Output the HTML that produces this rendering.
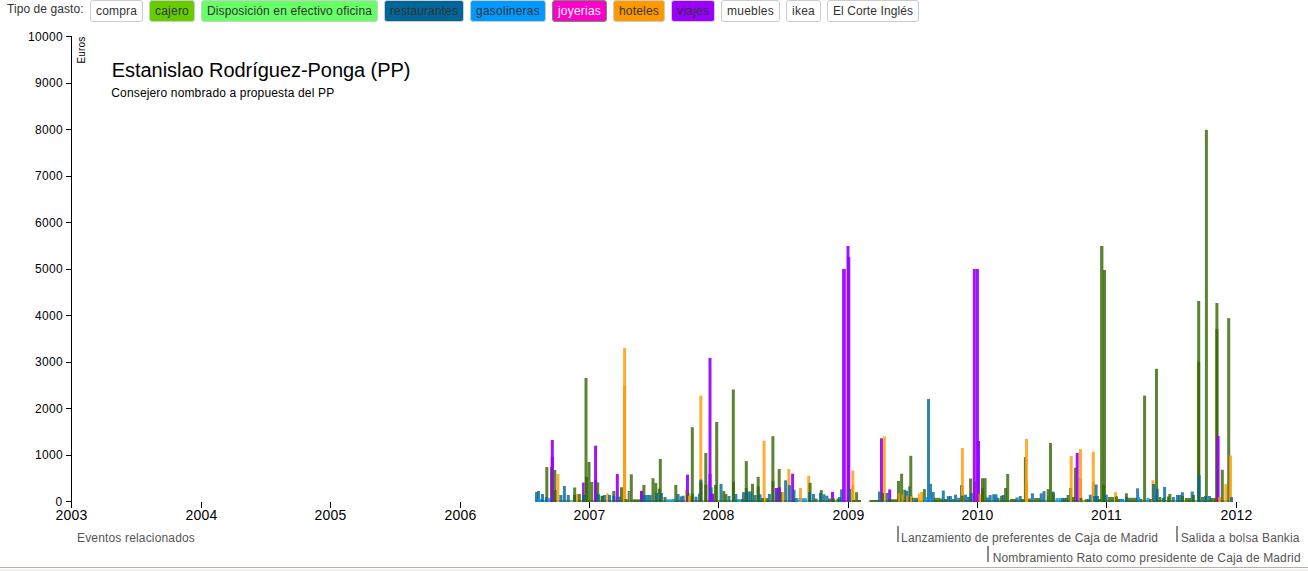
<!DOCTYPE html>
<html><head><meta charset="utf-8"><style>
html,body{margin:0;padding:0;background:#fff;overflow:hidden;width:1308px;height:571px}
svg{position:absolute;left:0;top:0;font-family:"Liberation Sans", sans-serif}
.bot{position:absolute;left:0;top:567px;width:1308px;height:1px;background:#b4b1ad}
.bot2{position:absolute;left:0;top:569px;width:1308px;height:2px;background:#efeeec}
</style></head><body>
<svg width="1308" height="571" viewBox="0 0 1308 571">
<rect x="90.5" y="0.5" width="52" height="21" rx="2.5" ry="2.5" fill="#fff" stroke="#ccc"/>
<text x="96" y="15" font-size="12" fill="#333" letter-spacing="0.164">compra</text>
<rect x="149.5" y="0.5" width="45" height="21" rx="2.5" ry="2.5" fill="#66cc00" stroke="#ccc"/>
<text x="155" y="15" font-size="12" fill="#333" letter-spacing="0.219">cajero</text>
<rect x="201.5" y="0.5" width="176" height="21" rx="2.5" ry="2.5" fill="#66ff66" stroke="#ccc"/>
<text x="207" y="15" font-size="12" fill="#333" letter-spacing="0.137">Disposición en efectivo oficina</text>
<rect x="384.5" y="0.5" width="79" height="21" rx="2.5" ry="2.5" fill="#006699" stroke="#ccc"/>
<text x="390" y="15" font-size="12" fill="#333" letter-spacing="0.108">restaurantes</text>
<rect x="470.5" y="0.5" width="75" height="21" rx="2.5" ry="2.5" fill="#0099ff" stroke="#ccc"/>
<text x="476" y="15" font-size="12" fill="#333" letter-spacing="0.239">gasolineras</text>
<rect x="552.5" y="0.5" width="54" height="21" rx="2.5" ry="2.5" fill="#ff00cc" stroke="#5c9c5c"/>
<text x="558" y="15" font-size="12" fill="#fff" letter-spacing="0.206">joyerias</text>
<rect x="613.5" y="0.5" width="51" height="21" rx="2.5" ry="2.5" fill="#ff9900" stroke="#ccc"/>
<text x="619" y="15" font-size="12" fill="#333" letter-spacing="0.186">hoteles</text>
<rect x="671.5" y="0.5" width="43" height="21" rx="2.5" ry="2.5" fill="#9900ff" stroke="#ccc"/>
<text x="677" y="15" font-size="12" fill="#333" letter-spacing="0.220">viajes</text>
<rect x="721.5" y="0.5" width="58" height="21" rx="2.5" ry="2.5" fill="#fff" stroke="#ccc"/>
<text x="727" y="15" font-size="12" fill="#333" letter-spacing="0.235">muebles</text>
<rect x="786.5" y="0.5" width="34" height="21" rx="2.5" ry="2.5" fill="#fff" stroke="#ccc"/>
<text x="792" y="15" font-size="12" fill="#333" letter-spacing="0.247">ikea</text>
<rect x="827.5" y="0.5" width="91" height="21" rx="2.5" ry="2.5" fill="#fff" stroke="#ccc"/>
<text x="833" y="15" font-size="12" fill="#333" letter-spacing="0.086">El Corte Inglés</text>
<text x="7" y="13" font-size="12" fill="#333" letter-spacing="0.068" >Tipo de gasto:</text>
<rect x="71" y="36" width="1" height="466" fill="#000"/>
<rect x="66" y="501" width="6" height="1" fill="#000"/>
<text x="62.6" y="506" font-size="12" text-anchor="end" letter-spacing="0.326">0</text>
<rect x="66" y="455" width="6" height="1" fill="#000"/>
<text x="63.0" y="459" font-size="12" text-anchor="end" letter-spacing="0.326">1000</text>
<rect x="66" y="408" width="6" height="1" fill="#000"/>
<text x="63.0" y="413" font-size="12" text-anchor="end" letter-spacing="0.326">2000</text>
<rect x="66" y="362" width="6" height="1" fill="#000"/>
<text x="63.0" y="366" font-size="12" text-anchor="end" letter-spacing="0.326">3000</text>
<rect x="66" y="315" width="6" height="1" fill="#000"/>
<text x="63.0" y="320" font-size="12" text-anchor="end" letter-spacing="0.326">4000</text>
<rect x="66" y="269" width="6" height="1" fill="#000"/>
<text x="63.0" y="273" font-size="12" text-anchor="end" letter-spacing="0.326">5000</text>
<rect x="66" y="222" width="6" height="1" fill="#000"/>
<text x="63.0" y="227" font-size="12" text-anchor="end" letter-spacing="0.326">6000</text>
<rect x="66" y="176" width="6" height="1" fill="#000"/>
<text x="63.0" y="180" font-size="12" text-anchor="end" letter-spacing="0.326">7000</text>
<rect x="66" y="129" width="6" height="1" fill="#000"/>
<text x="63.0" y="134" font-size="12" text-anchor="end" letter-spacing="0.326">8000</text>
<rect x="66" y="83" width="6" height="1" fill="#000"/>
<text x="63.0" y="87" font-size="12" text-anchor="end" letter-spacing="0.326">9000</text>
<rect x="66" y="36" width="6" height="1" fill="#000"/>
<text x="63.0" y="41" font-size="12" text-anchor="end" letter-spacing="0.326">10000</text>
<text transform="translate(85.4,36.6) rotate(-90)" font-size="10" text-anchor="end" letter-spacing="0.175">Euros</text>
<rect x="71" y="502" width="1" height="6" fill="#000"/>
<text x="71.5" y="520.44" font-size="14" text-anchor="middle" letter-spacing="0.214">2003</text>
<rect x="201" y="502" width="1" height="6" fill="#000"/>
<text x="201.5" y="520.44" font-size="14" text-anchor="middle" letter-spacing="0.214">2004</text>
<rect x="330" y="502" width="1" height="6" fill="#000"/>
<text x="330.5" y="520.44" font-size="14" text-anchor="middle" letter-spacing="0.214">2005</text>
<rect x="460" y="502" width="1" height="6" fill="#000"/>
<text x="460.5" y="520.44" font-size="14" text-anchor="middle" letter-spacing="0.214">2006</text>
<rect x="589" y="502" width="1" height="6" fill="#000"/>
<text x="589.5" y="520.44" font-size="14" text-anchor="middle" letter-spacing="0.214">2007</text>
<rect x="718" y="502" width="1" height="6" fill="#000"/>
<text x="718.5" y="520.44" font-size="14" text-anchor="middle" letter-spacing="0.214">2008</text>
<rect x="848" y="502" width="1" height="6" fill="#000"/>
<text x="848.5" y="520.44" font-size="14" text-anchor="middle" letter-spacing="0.214">2009</text>
<rect x="977" y="502" width="1" height="6" fill="#000"/>
<text x="977.5" y="520.44" font-size="14" text-anchor="middle" letter-spacing="0.214">2010</text>
<rect x="1106" y="502" width="1" height="6" fill="#000"/>
<text x="1106.5" y="520.44" font-size="14" text-anchor="middle" letter-spacing="0.214">2011</text>
<rect x="1236" y="502" width="1" height="6" fill="#000"/>
<text x="1236.5" y="520.44" font-size="14" text-anchor="middle" letter-spacing="0.214">2012</text>
<text x="111.8" y="77" font-size="20" fill="#000" letter-spacing="-0.05">Estanislao Rodríguez-Ponga (PP)</text>
<text x="111.3" y="96.7" font-size="12" fill="#000" letter-spacing="0.149" >Consejero nombrado a propuesta del PP</text>
<rect x="536" y="500" width="325" height="2" fill="rgba(51,102,0,0.55)"/>
<rect x="869" y="500" width="364" height="2" fill="rgba(51,102,0,0.55)"/>
<rect x="535.0" y="492.0" width="3" height="10.00" fill="rgba(0,102,153,0.8)"/>
<rect x="537.0" y="491.0" width="3" height="11.00" fill="rgba(0,102,153,0.8)"/>
<rect x="537.0" y="499.0" width="3" height="3.00" fill="rgba(0,153,255,0.8)"/>
<rect x="540.0" y="499.0" width="3" height="3.00" fill="rgba(0,153,255,0.8)"/>
<rect x="541.0" y="494.0" width="3" height="8.00" fill="rgba(0,102,153,0.8)"/>
<rect x="545.3" y="467.0" width="3" height="35.00" fill="rgba(51,102,0,0.8)"/>
<rect x="545.0" y="497.0" width="3" height="5.00" fill="rgba(0,102,153,0.8)"/>
<rect x="547.0" y="498.0" width="3" height="4.00" fill="rgba(0,153,255,0.8)"/>
<rect x="550.0" y="467.0" width="2.0" height="35.00" fill="rgba(51,102,0,0.8)"/>
<rect x="550.8" y="440.0" width="3" height="62.00" fill="rgba(153,0,255,0.92)"/>
<rect x="550.8" y="457.0" width="3" height="45.00" fill="rgba(153,0,255,0.92)"/>
<rect x="553.3" y="470.0" width="3" height="32.00" fill="rgba(51,102,0,0.8)"/>
<rect x="556.4" y="474.0" width="3" height="28.00" fill="rgba(255,153,0,0.8)"/>
<rect x="553.5" y="490.0" width="3" height="12.00" fill="rgba(51,102,0,0.8)"/>
<rect x="559.4" y="495.0" width="3" height="7.00" fill="rgba(0,102,153,0.8)"/>
<rect x="562.9" y="486.0" width="3" height="16.00" fill="rgba(0,102,153,0.8)"/>
<rect x="566.8" y="495.0" width="3" height="7.00" fill="rgba(0,102,153,0.8)"/>
<rect x="573.0" y="495.0" width="3" height="7.00" fill="rgba(0,102,153,0.8)"/>
<rect x="573.2" y="487.5" width="3" height="14.50" fill="rgba(51,102,0,0.8)"/>
<rect x="576.0" y="494.0" width="2.0" height="8.00" fill="rgba(255,153,0,0.8)"/>
<rect x="577.8" y="494.0" width="3" height="8.00" fill="rgba(51,102,0,0.8)"/>
<rect x="582.1" y="482.6" width="2.5" height="19.40" fill="rgba(153,0,255,0.92)"/>
<rect x="582.0" y="495.0" width="3" height="7.00" fill="rgba(0,102,153,0.8)"/>
<rect x="584.5" y="378.0" width="3" height="124.00" fill="rgba(51,102,0,0.8)"/>
<rect x="587.5" y="462.0" width="3" height="40.00" fill="rgba(51,102,0,0.8)"/>
<rect x="585.0" y="477.0" width="3" height="25.00" fill="rgba(51,102,0,0.8)"/>
<rect x="590.3" y="482.0" width="3" height="20.00" fill="rgba(51,102,0,0.8)"/>
<rect x="594.1" y="445.7" width="3" height="56.30" fill="rgba(153,0,255,0.92)"/>
<rect x="594.1" y="480.0" width="3" height="22.00" fill="rgba(153,0,255,0.92)"/>
<rect x="596.2" y="482.4" width="3" height="19.60" fill="rgba(51,102,0,0.8)"/>
<rect x="597.0" y="494.3" width="3" height="7.70" fill="rgba(0,102,153,0.8)"/>
<rect x="600.5" y="495.7" width="3" height="6.30" fill="rgba(0,102,153,0.8)"/>
<rect x="603.0" y="495.0" width="3" height="7.00" fill="rgba(0,102,153,0.8)"/>
<rect x="601.0" y="496.0" width="3" height="6.00" fill="rgba(51,102,0,0.8)"/>
<rect x="606.0" y="493.4" width="3" height="8.60" fill="rgba(255,153,0,0.8)"/>
<rect x="608.0" y="495.0" width="3" height="7.00" fill="rgba(0,102,153,0.8)"/>
<rect x="612.3" y="491.0" width="3" height="11.00" fill="rgba(51,102,0,0.8)"/>
<rect x="612.3" y="495.7" width="3" height="6.30" fill="rgba(0,102,153,0.8)"/>
<rect x="615.8" y="474.0" width="3" height="28.00" fill="rgba(153,0,255,0.92)"/>
<rect x="618.0" y="496.7" width="3" height="5.30" fill="rgba(0,102,153,0.8)"/>
<rect x="620.0" y="487.3" width="3" height="14.70" fill="rgba(51,102,0,0.8)"/>
<rect x="623.1" y="348.0" width="3" height="154.00" fill="rgba(255,153,0,0.8)"/>
<rect x="623.1" y="385.5" width="3" height="116.50" fill="rgba(255,153,0,0.8)"/>
<rect x="624.5" y="499.0" width="3" height="3.00" fill="rgba(51,102,0,0.8)"/>
<rect x="627.7" y="491.0" width="2.5" height="11.00" fill="rgba(0,102,153,0.8)"/>
<rect x="629.0" y="492.0" width="1.0" height="10.00" fill="rgba(255,153,0,0.8)"/>
<rect x="629.8" y="474.3" width="3" height="27.70" fill="rgba(51,102,0,0.8)"/>
<rect x="633.0" y="499.3" width="3.0" height="2.70" fill="rgba(51,102,0,0.8)"/>
<rect x="636.0" y="499.3" width="3.0" height="2.70" fill="rgba(51,102,0,0.8)"/>
<rect x="639.0" y="499.3" width="3.0" height="2.70" fill="rgba(51,102,0,0.8)"/>
<rect x="640.0" y="491.0" width="3" height="11.00" fill="rgba(51,102,0,0.8)"/>
<rect x="640.0" y="490.8" width="3" height="11.20" fill="rgba(153,0,255,0.92)"/>
<rect x="642.4" y="485.0" width="3" height="17.00" fill="rgba(51,102,0,0.8)"/>
<rect x="643.0" y="495.0" width="3" height="7.00" fill="rgba(0,102,153,0.8)"/>
<rect x="646.0" y="495.0" width="3" height="7.00" fill="rgba(0,102,153,0.8)"/>
<rect x="648.7" y="495.0" width="3" height="7.00" fill="rgba(0,102,153,0.8)"/>
<rect x="651.5" y="478.2" width="3" height="23.80" fill="rgba(51,102,0,0.8)"/>
<rect x="654.3" y="482.9" width="3" height="19.10" fill="rgba(51,102,0,0.8)"/>
<rect x="655.0" y="493.0" width="3" height="9.00" fill="rgba(0,102,153,0.8)"/>
<rect x="658.8" y="459.0" width="3" height="43.00" fill="rgba(51,102,0,0.8)"/>
<rect x="657.8" y="488.7" width="3" height="13.30" fill="rgba(51,102,0,0.8)"/>
<rect x="660.0" y="493.0" width="3" height="9.00" fill="rgba(0,102,153,0.8)"/>
<rect x="663.5" y="497.0" width="3" height="5.00" fill="rgba(51,102,0,0.8)"/>
<rect x="666.0" y="499.3" width="3" height="2.70" fill="rgba(0,153,255,0.8)"/>
<rect x="669.0" y="499.3" width="3" height="2.70" fill="rgba(0,153,255,0.8)"/>
<rect x="672.0" y="499.0" width="3" height="3.00" fill="rgba(0,153,255,0.8)"/>
<rect x="674.3" y="485.0" width="3" height="17.00" fill="rgba(51,102,0,0.8)"/>
<rect x="676.5" y="494.0" width="3" height="8.00" fill="rgba(0,102,153,0.8)"/>
<rect x="679.5" y="496.4" width="3" height="5.60" fill="rgba(0,102,153,0.8)"/>
<rect x="681.7" y="495.7" width="3" height="6.30" fill="rgba(0,102,153,0.8)"/>
<rect x="685.0" y="489.7" width="1.5" height="12.30" fill="rgba(255,153,0,0.8)"/>
<rect x="686.0" y="474.7" width="3" height="27.30" fill="rgba(153,0,255,0.92)"/>
<rect x="686.5" y="493.0" width="3" height="9.00" fill="rgba(51,102,0,0.8)"/>
<rect x="688.0" y="496.0" width="3" height="6.00" fill="rgba(255,153,0,0.8)"/>
<rect x="690.8" y="427.2" width="3" height="74.80" fill="rgba(51,102,0,0.8)"/>
<rect x="690.8" y="493.6" width="3" height="8.40" fill="rgba(51,102,0,0.8)"/>
<rect x="694.5" y="496.7" width="3" height="5.30" fill="rgba(0,102,153,0.8)"/>
<rect x="698.0" y="493.6" width="3" height="8.40" fill="rgba(0,102,153,0.8)"/>
<rect x="699.3" y="395.6" width="3" height="106.40" fill="rgba(255,153,0,0.8)"/>
<rect x="699.3" y="479.6" width="3" height="22.40" fill="rgba(0,102,153,0.8)"/>
<rect x="699.5" y="481.7" width="3" height="20.30" fill="rgba(51,102,0,0.8)"/>
<rect x="704.3" y="453.0" width="3" height="49.00" fill="rgba(51,102,0,0.8)"/>
<rect x="704.3" y="484.5" width="3" height="17.50" fill="rgba(51,102,0,0.8)"/>
<rect x="708.5" y="358.0" width="3" height="144.00" fill="rgba(153,0,255,0.92)"/>
<rect x="708.5" y="474.0" width="3" height="28.00" fill="rgba(153,0,255,0.92)"/>
<rect x="709.7" y="487.3" width="3" height="14.70" fill="rgba(0,102,153,0.8)"/>
<rect x="711.0" y="493.6" width="3" height="8.40" fill="rgba(153,0,255,0.92)"/>
<rect x="715.2" y="422.0" width="3" height="80.00" fill="rgba(51,102,0,0.8)"/>
<rect x="714.0" y="485.0" width="3" height="17.00" fill="rgba(51,102,0,0.8)"/>
<rect x="719.5" y="483.8" width="3" height="18.20" fill="rgba(0,102,153,0.8)"/>
<rect x="722.3" y="491.1" width="3" height="10.90" fill="rgba(51,102,0,0.8)"/>
<rect x="724.4" y="494.0" width="3" height="8.00" fill="rgba(51,102,0,0.8)"/>
<rect x="727.5" y="496.0" width="3" height="6.00" fill="rgba(0,102,153,0.8)"/>
<rect x="731.8" y="389.5" width="3" height="112.50" fill="rgba(51,102,0,0.8)"/>
<rect x="732.0" y="481.7" width="3" height="20.30" fill="rgba(51,102,0,0.8)"/>
<rect x="734.3" y="494.0" width="3" height="8.00" fill="rgba(0,102,153,0.8)"/>
<rect x="737.0" y="499.0" width="3" height="3.00" fill="rgba(0,153,255,0.8)"/>
<rect x="740.5" y="499.0" width="3" height="3.00" fill="rgba(51,102,0,0.8)"/>
<rect x="742.0" y="492.2" width="3" height="9.80" fill="rgba(0,102,153,0.8)"/>
<rect x="744.8" y="461.1" width="3" height="40.90" fill="rgba(51,102,0,0.8)"/>
<rect x="744.8" y="488.0" width="3" height="14.00" fill="rgba(51,102,0,0.8)"/>
<rect x="746.5" y="491.5" width="3" height="10.50" fill="rgba(0,102,153,0.8)"/>
<rect x="749.0" y="491.5" width="3" height="10.50" fill="rgba(0,102,153,0.8)"/>
<rect x="751.0" y="483.8" width="3" height="18.20" fill="rgba(51,102,0,0.8)"/>
<rect x="753.5" y="495.0" width="3" height="7.00" fill="rgba(0,102,153,0.8)"/>
<rect x="756.7" y="476.8" width="3" height="25.20" fill="rgba(51,102,0,0.8)"/>
<rect x="756.7" y="486.6" width="3" height="15.40" fill="rgba(51,102,0,0.8)"/>
<rect x="758.5" y="494.3" width="3" height="7.70" fill="rgba(0,102,153,0.8)"/>
<rect x="762.6" y="440.7" width="3" height="61.30" fill="rgba(255,153,0,0.8)"/>
<rect x="761.0" y="498.0" width="3" height="4.00" fill="rgba(51,102,0,0.8)"/>
<rect x="765.5" y="498.0" width="3" height="4.00" fill="rgba(51,102,0,0.8)"/>
<rect x="767.9" y="494.0" width="3" height="8.00" fill="rgba(0,102,153,0.8)"/>
<rect x="771.4" y="436.2" width="3" height="65.80" fill="rgba(51,102,0,0.8)"/>
<rect x="771.4" y="481.0" width="3" height="21.00" fill="rgba(51,102,0,0.8)"/>
<rect x="774.9" y="488.0" width="3" height="14.00" fill="rgba(153,0,255,0.92)"/>
<rect x="777.0" y="488.0" width="3" height="14.00" fill="rgba(153,0,255,0.92)"/>
<rect x="777.7" y="469.0" width="3" height="33.00" fill="rgba(51,102,0,0.8)"/>
<rect x="776.0" y="491.0" width="3" height="11.00" fill="rgba(0,102,153,0.8)"/>
<rect x="778.0" y="487.3" width="3" height="14.70" fill="rgba(153,0,255,0.92)"/>
<rect x="779.5" y="492.0" width="3" height="10.00" fill="rgba(51,102,0,0.8)"/>
<rect x="782.0" y="492.0" width="2.0" height="10.00" fill="rgba(255,153,0,0.8)"/>
<rect x="784.1" y="480.3" width="3" height="21.70" fill="rgba(0,102,153,0.8)"/>
<rect x="787.3" y="469.1" width="3" height="32.90" fill="rgba(255,153,0,0.8)"/>
<rect x="787.9" y="485.2" width="3" height="16.80" fill="rgba(0,102,153,0.8)"/>
<rect x="791.1" y="473.7" width="3" height="28.30" fill="rgba(153,0,255,0.92)"/>
<rect x="792.5" y="489.7" width="3" height="12.30" fill="rgba(0,102,153,0.8)"/>
<rect x="794.0" y="498.0" width="3" height="4.00" fill="rgba(51,102,0,0.8)"/>
<rect x="795.3" y="498.1" width="3" height="3.90" fill="rgba(0,153,255,0.8)"/>
<rect x="798.3" y="498.1" width="3" height="3.90" fill="rgba(0,153,255,0.8)"/>
<rect x="801.3" y="498.1" width="3" height="3.90" fill="rgba(0,153,255,0.8)"/>
<rect x="804.0" y="498.1" width="3" height="3.90" fill="rgba(0,153,255,0.8)"/>
<rect x="799.0" y="488.0" width="3" height="14.00" fill="rgba(255,153,0,0.8)"/>
<rect x="807.2" y="475.7" width="3" height="26.30" fill="rgba(255,153,0,0.8)"/>
<rect x="808.6" y="482.8" width="3" height="19.20" fill="rgba(51,102,0,0.8)"/>
<rect x="808.0" y="492.2" width="3" height="9.80" fill="rgba(0,102,153,0.8)"/>
<rect x="812.0" y="494.0" width="3" height="8.00" fill="rgba(0,102,153,0.8)"/>
<rect x="814.5" y="498.5" width="3" height="3.50" fill="rgba(51,102,0,0.8)"/>
<rect x="819.8" y="490.1" width="3" height="11.90" fill="rgba(51,102,0,0.8)"/>
<rect x="819.0" y="493.0" width="3" height="9.00" fill="rgba(0,102,153,0.8)"/>
<rect x="822.6" y="494.3" width="3" height="7.70" fill="rgba(0,102,153,0.8)"/>
<rect x="825.4" y="495.7" width="3" height="6.30" fill="rgba(0,102,153,0.8)"/>
<rect x="828.0" y="498.5" width="3" height="3.50" fill="rgba(51,102,0,0.8)"/>
<rect x="831.0" y="492.0" width="3" height="10.00" fill="rgba(153,0,255,0.92)"/>
<rect x="832.0" y="498.5" width="3" height="3.50" fill="rgba(51,102,0,0.8)"/>
<rect x="836.5" y="498.5" width="3" height="3.50" fill="rgba(51,102,0,0.8)"/>
<rect x="838.0" y="497.1" width="3" height="4.90" fill="rgba(0,102,153,0.8)"/>
<rect x="840.1" y="489.4" width="3" height="12.60" fill="rgba(0,102,153,0.8)"/>
<rect x="842.1" y="269.0" width="3.7" height="233.00" fill="rgba(153,0,255,0.92)"/>
<rect x="846.5" y="246.0" width="3" height="256.00" fill="rgba(153,0,255,0.92)"/>
<rect x="847.3" y="257.0" width="3" height="245.00" fill="rgba(153,0,255,0.92)"/>
<rect x="848.5" y="489.1" width="3" height="12.90" fill="rgba(0,102,153,0.8)"/>
<rect x="851.3" y="470.5" width="3" height="31.50" fill="rgba(255,153,0,0.8)"/>
<rect x="851.3" y="485.2" width="3" height="16.80" fill="rgba(255,153,0,0.8)"/>
<rect x="855.1" y="492.2" width="3" height="9.80" fill="rgba(51,102,0,0.8)"/>
<rect x="852.0" y="500.0" width="3.0" height="2.00" fill="rgba(51,102,0,0.8)"/>
<rect x="858.0" y="500.0" width="3.0" height="2.00" fill="rgba(51,102,0,0.8)"/>
<rect x="870.2" y="500.0" width="3.0" height="2.00" fill="rgba(51,102,0,0.8)"/>
<rect x="873.2" y="500.0" width="3.0" height="2.00" fill="rgba(51,102,0,0.8)"/>
<rect x="876.2" y="500.0" width="3.0" height="2.00" fill="rgba(51,102,0,0.8)"/>
<rect x="878.0" y="491.5" width="2.0" height="10.50" fill="rgba(0,102,153,0.8)"/>
<rect x="880.0" y="438.3" width="3" height="63.70" fill="rgba(153,0,255,0.92)"/>
<rect x="882.8" y="436.5" width="3" height="65.50" fill="rgba(255,153,0,0.8)"/>
<rect x="881.0" y="493.0" width="3" height="9.00" fill="rgba(51,102,0,0.8)"/>
<rect x="885.6" y="493.0" width="3" height="9.00" fill="rgba(0,102,153,0.8)"/>
<rect x="888.2" y="489.4" width="3" height="12.60" fill="rgba(153,0,255,0.92)"/>
<rect x="888.0" y="499.0" width="3" height="3.00" fill="rgba(51,102,0,0.8)"/>
<rect x="891.0" y="499.2" width="3.0" height="2.80" fill="rgba(51,102,0,0.8)"/>
<rect x="894.0" y="499.2" width="3.0" height="2.80" fill="rgba(51,102,0,0.8)"/>
<rect x="897.0" y="481.0" width="3" height="21.00" fill="rgba(51,102,0,0.8)"/>
<rect x="898.1" y="493.3" width="2.4" height="8.70" fill="rgba(255,153,0,0.8)"/>
<rect x="900.1" y="473.7" width="3" height="28.30" fill="rgba(51,102,0,0.8)"/>
<rect x="901.5" y="494.3" width="1.5" height="7.70" fill="rgba(255,153,0,0.8)"/>
<rect x="903.3" y="489.7" width="3" height="12.30" fill="rgba(51,102,0,0.8)"/>
<rect x="905.1" y="490.8" width="3" height="11.20" fill="rgba(0,102,153,0.8)"/>
<rect x="906.1" y="495.7" width="3" height="6.30" fill="rgba(255,153,0,0.8)"/>
<rect x="908.2" y="486.3" width="2.2" height="15.70" fill="rgba(0,102,153,0.8)"/>
<rect x="909.3" y="455.8" width="3" height="46.20" fill="rgba(51,102,0,0.8)"/>
<rect x="910.0" y="496.1" width="3" height="5.90" fill="rgba(255,153,0,0.8)"/>
<rect x="912.0" y="497.8" width="3" height="4.20" fill="rgba(51,102,0,0.8)"/>
<rect x="915.0" y="497.8" width="3" height="4.20" fill="rgba(51,102,0,0.8)"/>
<rect x="913.0" y="499.0" width="2.0" height="3.00" fill="rgba(0,153,255,0.8)"/>
<rect x="918.0" y="493.6" width="2.0" height="8.40" fill="rgba(255,153,0,0.8)"/>
<rect x="920.1" y="492.0" width="3" height="10.00" fill="rgba(255,153,0,0.8)"/>
<rect x="922.9" y="489.1" width="3" height="12.90" fill="rgba(51,102,0,0.8)"/>
<rect x="924.3" y="497.0" width="3" height="5.00" fill="rgba(0,153,255,0.8)"/>
<rect x="927.0" y="399.0" width="3" height="103.00" fill="rgba(0,102,153,0.8)"/>
<rect x="929.6" y="483.8" width="2.4" height="18.20" fill="rgba(0,102,153,0.8)"/>
<rect x="931.7" y="492.0" width="3" height="10.00" fill="rgba(0,102,153,0.8)"/>
<rect x="929.0" y="499.0" width="3" height="3.00" fill="rgba(0,153,255,0.8)"/>
<rect x="934.0" y="497.8" width="3" height="4.20" fill="rgba(51,102,0,0.8)"/>
<rect x="937.0" y="497.8" width="3" height="4.20" fill="rgba(51,102,0,0.8)"/>
<rect x="940.0" y="498.5" width="3" height="3.50" fill="rgba(51,102,0,0.8)"/>
<rect x="941.8" y="490.5" width="3" height="11.50" fill="rgba(0,102,153,0.8)"/>
<rect x="944.0" y="499.0" width="3" height="3.00" fill="rgba(51,102,0,0.8)"/>
<rect x="946.7" y="496.1" width="3" height="5.90" fill="rgba(0,102,153,0.8)"/>
<rect x="949.0" y="496.1" width="3" height="5.90" fill="rgba(0,102,153,0.8)"/>
<rect x="952.0" y="499.0" width="3" height="3.00" fill="rgba(51,102,0,0.8)"/>
<rect x="954.1" y="494.7" width="3" height="7.30" fill="rgba(0,102,153,0.8)"/>
<rect x="957.2" y="497.8" width="3" height="4.20" fill="rgba(0,102,153,0.8)"/>
<rect x="960.0" y="485.2" width="3" height="16.80" fill="rgba(0,102,153,0.8)"/>
<rect x="960.9" y="448.0" width="3" height="54.00" fill="rgba(255,153,0,0.8)"/>
<rect x="960.9" y="486.6" width="3" height="15.40" fill="rgba(255,153,0,0.8)"/>
<rect x="960.7" y="495.7" width="3" height="6.30" fill="rgba(51,102,0,0.8)"/>
<rect x="964.0" y="494.7" width="3" height="7.30" fill="rgba(0,102,153,0.8)"/>
<rect x="967.0" y="497.0" width="3" height="5.00" fill="rgba(0,102,153,0.8)"/>
<rect x="969.1" y="478.5" width="3" height="23.50" fill="rgba(51,102,0,0.8)"/>
<rect x="969.8" y="493.0" width="3" height="9.00" fill="rgba(0,102,153,0.8)"/>
<rect x="973.0" y="481.7" width="3" height="20.30" fill="rgba(0,102,153,0.8)"/>
<rect x="973.3" y="482.7" width="2.4" height="19.30" fill="rgba(255,153,0,0.8)"/>
<rect x="972.8" y="269.0" width="3" height="233.00" fill="rgba(153,0,255,0.92)"/>
<rect x="975.9" y="269.0" width="3" height="233.00" fill="rgba(153,0,255,0.92)"/>
<rect x="977.0" y="441.0" width="3" height="61.00" fill="rgba(153,0,255,0.92)"/>
<rect x="978.5" y="493.6" width="2.5" height="8.40" fill="rgba(255,153,0,0.8)"/>
<rect x="981.0" y="478.2" width="3" height="23.80" fill="rgba(51,102,0,0.8)"/>
<rect x="983.6" y="478.2" width="3" height="23.80" fill="rgba(51,102,0,0.8)"/>
<rect x="981.0" y="488.0" width="3" height="14.00" fill="rgba(51,102,0,0.8)"/>
<rect x="986.0" y="497.5" width="3" height="4.50" fill="rgba(0,102,153,0.8)"/>
<rect x="988.7" y="495.0" width="3" height="7.00" fill="rgba(0,102,153,0.8)"/>
<rect x="992.2" y="494.3" width="3" height="7.70" fill="rgba(0,102,153,0.8)"/>
<rect x="994.5" y="494.3" width="3" height="7.70" fill="rgba(0,102,153,0.8)"/>
<rect x="996.5" y="497.8" width="3" height="4.20" fill="rgba(0,102,153,0.8)"/>
<rect x="1000.0" y="495.7" width="3" height="6.30" fill="rgba(51,102,0,0.8)"/>
<rect x="1002.0" y="495.0" width="3" height="7.00" fill="rgba(0,102,153,0.8)"/>
<rect x="1004.1" y="488.0" width="3" height="14.00" fill="rgba(51,102,0,0.8)"/>
<rect x="1006.2" y="474.0" width="3" height="28.00" fill="rgba(51,102,0,0.8)"/>
<rect x="1010.0" y="499.0" width="3.0" height="3.00" fill="rgba(51,102,0,0.8)"/>
<rect x="1013.0" y="499.0" width="3.0" height="3.00" fill="rgba(51,102,0,0.8)"/>
<rect x="1015.5" y="497.5" width="3" height="4.50" fill="rgba(0,102,153,0.8)"/>
<rect x="1018.7" y="496.0" width="3" height="6.00" fill="rgba(0,102,153,0.8)"/>
<rect x="1021.0" y="499.0" width="3" height="3.00" fill="rgba(51,102,0,0.8)"/>
<rect x="1023.9" y="457.2" width="2.5" height="44.80" fill="rgba(51,102,0,0.8)"/>
<rect x="1025.0" y="439.0" width="3" height="63.00" fill="rgba(255,153,0,0.8)"/>
<rect x="1025.0" y="482.4" width="3" height="19.60" fill="rgba(255,153,0,0.8)"/>
<rect x="1028.0" y="498.5" width="3" height="3.50" fill="rgba(51,102,0,0.8)"/>
<rect x="1030.9" y="493.3" width="3" height="8.70" fill="rgba(0,102,153,0.8)"/>
<rect x="1034.0" y="498.0" width="3" height="4.00" fill="rgba(51,102,0,0.8)"/>
<rect x="1037.0" y="498.0" width="3" height="4.00" fill="rgba(51,102,0,0.8)"/>
<rect x="1039.7" y="493.3" width="3" height="8.70" fill="rgba(0,102,153,0.8)"/>
<rect x="1042.5" y="491.1" width="3" height="10.90" fill="rgba(0,102,153,0.8)"/>
<rect x="1047.0" y="495.7" width="1.7" height="6.30" fill="rgba(255,153,0,0.8)"/>
<rect x="1046.7" y="489.1" width="3" height="12.90" fill="rgba(51,102,0,0.8)"/>
<rect x="1049.0" y="442.9" width="3" height="59.10" fill="rgba(51,102,0,0.8)"/>
<rect x="1051.5" y="491.5" width="3" height="10.50" fill="rgba(0,102,153,0.8)"/>
<rect x="1052.0" y="493.0" width="3" height="9.00" fill="rgba(51,102,0,0.8)"/>
<rect x="1055.5" y="498.0" width="3" height="4.00" fill="rgba(0,153,255,0.8)"/>
<rect x="1058.5" y="498.0" width="3" height="4.00" fill="rgba(0,153,255,0.8)"/>
<rect x="1061.0" y="498.0" width="3" height="4.00" fill="rgba(0,102,153,0.8)"/>
<rect x="1063.0" y="498.0" width="3" height="4.00" fill="rgba(51,102,0,0.8)"/>
<rect x="1065.0" y="498.0" width="3" height="4.00" fill="rgba(51,102,0,0.8)"/>
<rect x="1066.6" y="495.0" width="3" height="7.00" fill="rgba(0,102,153,0.8)"/>
<rect x="1069.1" y="488.0" width="3" height="14.00" fill="rgba(51,102,0,0.8)"/>
<rect x="1069.7" y="456.1" width="3" height="45.90" fill="rgba(255,153,0,0.8)"/>
<rect x="1072.0" y="497.0" width="3" height="5.00" fill="rgba(51,102,0,0.8)"/>
<rect x="1073.9" y="467.7" width="3" height="34.30" fill="rgba(51,102,0,0.8)"/>
<rect x="1075.7" y="453.0" width="3" height="49.00" fill="rgba(153,0,255,0.92)"/>
<rect x="1079.0" y="449.1" width="3" height="52.90" fill="rgba(255,153,0,0.8)"/>
<rect x="1079.0" y="478.2" width="3" height="23.80" fill="rgba(255,153,0,0.8)"/>
<rect x="1079.5" y="498.0" width="3" height="4.00" fill="rgba(51,102,0,0.8)"/>
<rect x="1084.8" y="499.2" width="3" height="2.80" fill="rgba(51,102,0,0.8)"/>
<rect x="1087.0" y="499.2" width="3" height="2.80" fill="rgba(51,102,0,0.8)"/>
<rect x="1088.8" y="494.7" width="3" height="7.30" fill="rgba(0,102,153,0.8)"/>
<rect x="1091.8" y="451.6" width="3" height="50.40" fill="rgba(255,153,0,0.8)"/>
<rect x="1091.8" y="482.1" width="3" height="19.90" fill="rgba(255,153,0,0.8)"/>
<rect x="1094.6" y="484.5" width="3" height="17.50" fill="rgba(0,102,153,0.8)"/>
<rect x="1093.0" y="496.0" width="3" height="6.00" fill="rgba(0,102,153,0.8)"/>
<rect x="1096.0" y="496.0" width="3" height="6.00" fill="rgba(0,102,153,0.8)"/>
<rect x="1098.0" y="499.0" width="3" height="3.00" fill="rgba(51,102,0,0.8)"/>
<rect x="1100.1" y="246.0" width="3.3" height="256.00" fill="rgba(51,102,0,0.8)"/>
<rect x="1102.8" y="270.0" width="3.2" height="232.00" fill="rgba(51,102,0,0.8)"/>
<rect x="1102.0" y="485.0" width="3" height="17.00" fill="rgba(51,102,0,0.8)"/>
<rect x="1104.7" y="494.7" width="3" height="7.30" fill="rgba(0,102,153,0.8)"/>
<rect x="1108.0" y="497.0" width="3" height="5.00" fill="rgba(51,102,0,0.8)"/>
<rect x="1111.0" y="497.0" width="3" height="5.00" fill="rgba(51,102,0,0.8)"/>
<rect x="1114.0" y="492.2" width="3" height="9.80" fill="rgba(255,153,0,0.8)"/>
<rect x="1115.0" y="496.4" width="3" height="5.60" fill="rgba(51,102,0,0.8)"/>
<rect x="1118.0" y="499.0" width="3" height="3.00" fill="rgba(51,102,0,0.8)"/>
<rect x="1121.0" y="499.0" width="3" height="3.00" fill="rgba(51,102,0,0.8)"/>
<rect x="1122.0" y="499.0" width="2.0" height="3.00" fill="rgba(0,153,255,0.8)"/>
<rect x="1120.0" y="499.0" width="3" height="3.00" fill="rgba(0,153,255,0.8)"/>
<rect x="1124.9" y="493.3" width="3" height="8.70" fill="rgba(51,102,0,0.8)"/>
<rect x="1125.0" y="497.0" width="3" height="5.00" fill="rgba(0,102,153,0.8)"/>
<rect x="1128.0" y="497.8" width="3" height="4.20" fill="rgba(51,102,0,0.8)"/>
<rect x="1131.0" y="497.8" width="3" height="4.20" fill="rgba(51,102,0,0.8)"/>
<rect x="1134.0" y="497.8" width="3" height="4.20" fill="rgba(51,102,0,0.8)"/>
<rect x="1136.1" y="488.3" width="3" height="13.70" fill="rgba(0,102,153,0.8)"/>
<rect x="1137.0" y="497.0" width="3" height="5.00" fill="rgba(0,153,255,0.8)"/>
<rect x="1139.5" y="499.0" width="3" height="3.00" fill="rgba(51,102,0,0.8)"/>
<rect x="1143.1" y="395.6" width="3" height="106.40" fill="rgba(51,102,0,0.8)"/>
<rect x="1146.5" y="497.8" width="3" height="4.20" fill="rgba(0,153,255,0.8)"/>
<rect x="1149.0" y="499.0" width="3" height="3.00" fill="rgba(51,102,0,0.8)"/>
<rect x="1151.5" y="480.3" width="3" height="21.70" fill="rgba(255,153,0,0.8)"/>
<rect x="1155.0" y="368.8" width="3" height="133.20" fill="rgba(51,102,0,0.8)"/>
<rect x="1155.7" y="488.7" width="3" height="13.30" fill="rgba(0,102,153,0.8)"/>
<rect x="1158.5" y="497.0" width="3" height="5.00" fill="rgba(51,102,0,0.8)"/>
<rect x="1162.0" y="498.0" width="3" height="4.00" fill="rgba(51,102,0,0.8)"/>
<rect x="1163.1" y="486.9" width="3" height="15.10" fill="rgba(0,102,153,0.8)"/>
<rect x="1167.0" y="496.5" width="3" height="5.50" fill="rgba(51,102,0,0.8)"/>
<rect x="1168.3" y="493.9" width="3" height="8.10" fill="rgba(51,102,0,0.8)"/>
<rect x="1171.8" y="497.1" width="3" height="4.90" fill="rgba(0,102,153,0.8)"/>
<rect x="1176.0" y="495.0" width="3" height="7.00" fill="rgba(0,102,153,0.8)"/>
<rect x="1178.0" y="495.0" width="3" height="7.00" fill="rgba(0,102,153,0.8)"/>
<rect x="1180.9" y="492.2" width="3" height="9.80" fill="rgba(0,102,153,0.8)"/>
<rect x="1181.0" y="496.0" width="3" height="6.00" fill="rgba(51,102,0,0.8)"/>
<rect x="1185.0" y="498.0" width="3" height="4.00" fill="rgba(51,102,0,0.8)"/>
<rect x="1188.0" y="498.0" width="3" height="4.00" fill="rgba(51,102,0,0.8)"/>
<rect x="1190.7" y="491.5" width="3" height="10.50" fill="rgba(0,102,153,0.8)"/>
<rect x="1192.0" y="495.0" width="3" height="7.00" fill="rgba(51,102,0,0.8)"/>
<rect x="1197.2" y="301.0" width="3" height="201.00" fill="rgba(51,102,0,0.8)"/>
<rect x="1197.2" y="361.7" width="3" height="140.30" fill="rgba(51,102,0,0.8)"/>
<rect x="1197.7" y="475.1" width="3" height="26.90" fill="rgba(0,102,153,0.8)"/>
<rect x="1201.0" y="497.0" width="3" height="5.00" fill="rgba(51,102,0,0.8)"/>
<rect x="1204.9" y="129.8" width="3" height="372.20" fill="rgba(51,102,0,0.8)"/>
<rect x="1204.0" y="496.0" width="3" height="6.00" fill="rgba(0,102,153,0.8)"/>
<rect x="1208.0" y="496.0" width="3" height="6.00" fill="rgba(0,102,153,0.8)"/>
<rect x="1210.0" y="498.0" width="3" height="4.00" fill="rgba(51,102,0,0.8)"/>
<rect x="1213.0" y="498.0" width="3" height="4.00" fill="rgba(51,102,0,0.8)"/>
<rect x="1215.4" y="303.0" width="3" height="199.00" fill="rgba(51,102,0,0.8)"/>
<rect x="1215.4" y="329.0" width="3" height="173.00" fill="rgba(51,102,0,0.8)"/>
<rect x="1216.6" y="436.0" width="3" height="66.00" fill="rgba(153,0,255,0.92)"/>
<rect x="1218.0" y="497.0" width="3" height="5.00" fill="rgba(255,153,0,0.8)"/>
<rect x="1220.8" y="469.8" width="3" height="32.20" fill="rgba(51,102,0,0.8)"/>
<rect x="1224.3" y="484.1" width="3" height="17.90" fill="rgba(255,153,0,0.8)"/>
<rect x="1227.2" y="318.2" width="3" height="183.80" fill="rgba(51,102,0,0.8)"/>
<rect x="1229.0" y="455.5" width="3" height="46.50" fill="rgba(255,153,0,0.8)"/>
<rect x="1230.0" y="497.1" width="3" height="4.90" fill="rgba(0,102,153,0.8)"/>
<rect x="1152.0" y="484.0" width="3" height="18.00" fill="rgba(0,102,153,0.8)"/>
<text x="77" y="541.7" font-size="12" fill="#555" letter-spacing="0.163">Eventos relacionados</text>
<rect x="897" y="526" width="2" height="16" fill="#8c8c8c"/>
<text x="901.1" y="541.5" font-size="12" fill="#555" letter-spacing="0.140">Lanzamiento de preferentes de Caja de Madrid</text>
<rect x="1176" y="526" width="2" height="16" fill="#8c8c8c"/>
<text x="1180.7" y="541.5" font-size="12" fill="#555" letter-spacing="0.171">Salida a bolsa Bankia</text>
<rect x="987" y="546" width="2" height="16" fill="#8c8c8c"/>
<text x="992.7" y="561.5" font-size="12" fill="#555" letter-spacing="0.141">Nombramiento Rato como presidente de Caja de Madrid</text>
</svg>
<div class="bot"></div><div class="bot2"></div>
</body></html>
